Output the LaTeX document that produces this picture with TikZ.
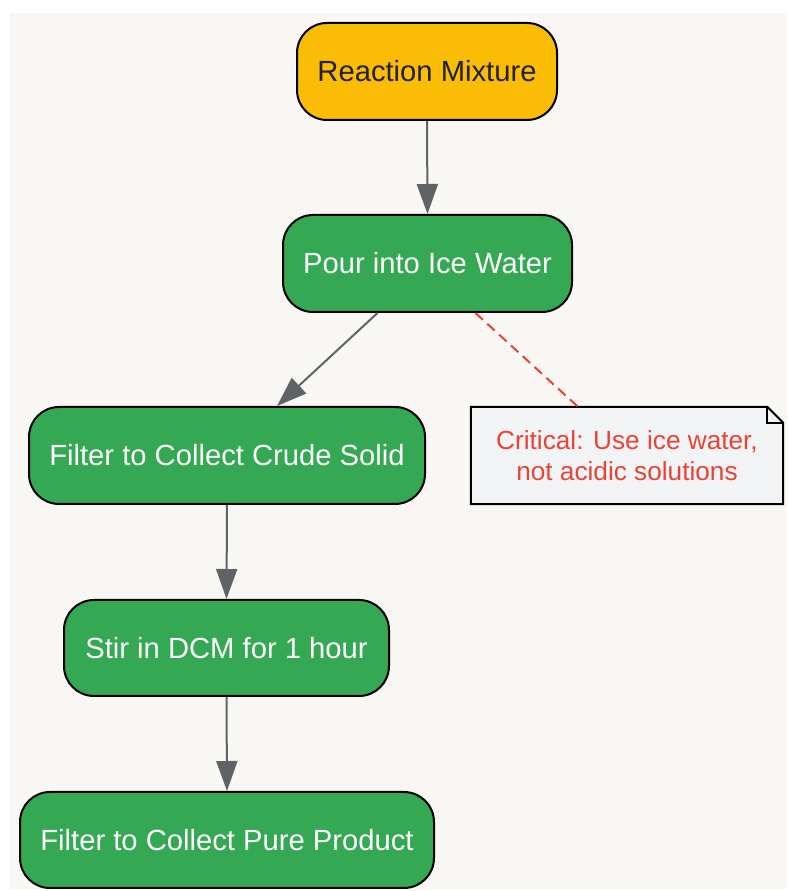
\documentclass[tikz,border=0pt]{standalone}
\usepackage{fontspec}
\setmainfont{Liberation Sans}
\usetikzlibrary{arrows.meta,backgrounds}
\begin{document}
\begin{tikzpicture}[x=1pt,y=1pt,
  stepbox/.style={draw=black,line width=2pt,rounded corners=30pt,inner sep=0pt,
    font=\fontsize{29.2}{34}\selectfont,align=center},
  greenbox/.style={stepbox,fill=stepGreen,text=white},
  flow/.style={draw=arrowGray,line width=2pt,-{Triangle[length=30pt,width=21pt]}},
  notelink/.style={draw=noteRed,line width=2pt,dash pattern=on 10pt off 6pt}]
\definecolor{bgColor}{RGB}{248,247,244}
\definecolor{startYellow}{RGB}{251,188,5}
\definecolor{stepGreen}{RGB}{52,168,83}
\definecolor{arrowGray}{RGB}{95,99,104}
\definecolor{noteRed}{RGB}{234,67,53}
\definecolor{noteFill}{RGB}{241,243,244}
\definecolor{darkText}{RGB}{32,33,36}
\path[use as bounding box] (0,0) rectangle (787,891);

\begin{scope}[on background layer]
\path[fill=bgColor] (10,2) rectangle (787,878);
\end{scope}

\node[stepbox,fill=startYellow,text=darkText,minimum width=260pt,minimum height=97pt] (mix) at (427,819.5) {Reaction Mixture};

\node[greenbox,minimum width=289pt,minimum height=97pt] (pour) at (427.5,627.5) {Pour into Ice Water};

\node[greenbox,minimum width=396pt,minimum height=97pt] (crude) at (227,435.5) {Filter to Collect Crude Solid};

\node[greenbox,minimum width=325pt,minimum height=96pt] (stir) at (226.5,243) {Stir in DCM for 1 hour};

\node[greenbox,minimum width=414pt,minimum height=96pt] (pure) at (227,51) {Filter to Collect Pure Product};

\node[inner sep=0pt,minimum width=312pt,minimum height=97pt,text=noteRed,align=center,
  font=\fontsize{26.2}{31}\selectfont] (note) at (627,435.5) {Critical: Use ice water,\\not acidic solutions};

\begin{scope}[on background layer]
\path[draw=black,line width=2pt,fill=noteFill] (note.south west) -- (note.north west) --
	([xshift=-16pt]note.north east) -- ([yshift=-16pt]note.north east) -- (note.south east) -- cycle;

\path[draw=black,line width=2pt] ([xshift=-16pt]note.north east) |- ([yshift=-16pt]note.north east);
\end{scope}

\path[flow] (mix.south) -- (pour.north);

\path[flow] ([xshift=-50pt]pour.south) -- ([xshift=50pt]crude.north);

\path[flow] (crude.south) -- (stir.north);

\path[flow] (stir.south) -- (pure.north);

\path[notelink] ([xshift=48pt]pour.south) -- ([xshift=-49pt]note.north);
\end{tikzpicture}
\end{document}
